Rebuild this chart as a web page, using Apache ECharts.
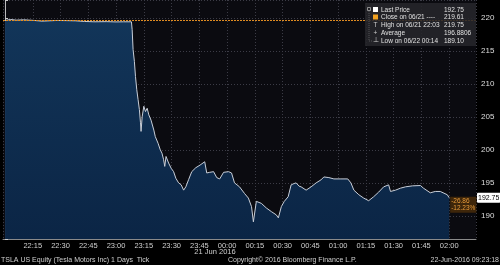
<!DOCTYPE html>
<html><head><meta charset="utf-8">
<script src="https://cdn.jsdelivr.net/npm/echarts@6/dist/echarts.min.js"></script>
<style>html,body{margin:0;padding:0;background:#000}#c{width:500px;height:265px}</style>
</head><body><div id="c"></div>
<script>
// minutes after 21 Jun 2016 22:00
var times = [0, 3, 6, 10, 15, 20, 24, 28, 33, 38,
  43, 48, 55, 60, 64, 68.3, 68.7, 69.2, 69.9, 70.5,
  71.2, 71.9, 72.6, 73.2, 73.5, 74.1, 75, 75.9, 76.8, 77.7,
  78.9, 80.4, 81.2, 82.7, 83.9, 84.8, 85.7, 86.3, 87, 88.4,
  89.8, 91.1, 92.3, 93.8, 95.2, 96.5, 97.7, 99.2, 100.9, 103.1,
  105.4, 106.3, 107.9, 109, 110.6, 112.7, 114.4, 116, 118.1, 120.8,
  122.4, 124, 126.7, 129.4, 131.5, 133.2, 134.2, 135.8, 138.5, 141.2,
  143.9, 146.6, 147.7, 149.3, 150.9, 153, 154.6, 156.2, 157.3, 158.9,
  160, 162.7, 165.4, 168.1, 170.7, 172.3, 175, 177.7, 181.5, 185.2,
  186.9, 188.5, 191.2, 193.8, 196.5, 199.2, 201.9, 204.6, 207.3, 208.3,
  211, 213.7, 216.4, 220.2, 224.5, 226.1, 229.8, 232.5, 235.2, 239,
  240];
var prices = [219.60, 219.75, 219.65, 219.70, 219.62, 219.50, 219.55, 219.60, 219.58, 219.55,
  219.45, 219.40, 219.42, 219.38, 219.40, 219.40, 218.2, 215.2, 213.4, 211.1,
  209.1, 207.6, 206.1, 204.1, 202.8, 205.0, 206.6, 205.8, 206.3, 205.3,
  204.5, 203.0, 202.0, 201.0, 200.0, 199.5, 198.5, 197.5, 199.0, 198.0,
  197.2, 196.7, 195.7, 195.0, 194.7, 193.9, 194.4, 195.5, 196.7, 197.3,
  197.7, 198.0, 198.2, 196.5, 196.6, 196.7, 195.8, 195.6, 196.6, 196.7,
  196.5, 195.0, 194.4, 193.4, 192.7, 191.4, 189.1, 192.2, 191.9, 191.2,
  190.65, 190.15, 189.7, 191.4, 192.2, 192.9, 194.7, 194.9, 195.0, 194.5,
  194.4, 193.9, 194.4, 195.0, 195.45, 195.9, 195.8, 195.6, 195.6, 195.6,
  195.0, 193.9, 193.2, 192.7, 192.3, 192.9, 193.6, 194.4, 194.7, 193.7,
  193.9, 194.2, 194.4, 194.55, 194.6, 194.2, 193.5, 193.7, 193.7, 193.2,
  192.75];
var closePrice = 219.61;
var lastPrice = 192.75;
var netChange = '-26.86';
var pctChange = '-12.23%';
var legendLabels = ['Last Price', 'Close on 06/21 ----', 'High on 06/21 22:03', 'Average', 'Low on 06/22 00:14'];
var legendValues = ['192.75', '219.61', '219.75', '196.8806', '189.10'];
var xMin = -1.1, xMax = 254.5, yMin = 186.5, yMax = 222.7;

function fmtTime(v) {
  var m = Math.round(v);
  if (m < 15 || m % 15 !== 0 || Math.abs(v - m) > 1e-6) return '';
  var total = 22 * 60 + m;
  var h = Math.floor(total / 60) % 24, mm = total % 60;
  return (h < 10 ? '0' : '') + h + ':' + (mm < 10 ? '0' : '') + mm;
}

var data = times.map(function (t, i) { return [t, prices[i]]; });
var font = 'Liberation Sans';
var chart = echarts.init(document.getElementById('c'), null, {renderer: 'canvas'});

var legendGraphics = [{
  type: 'rect', shape: {x: 365, y: 3, width: 111, height: 43},
  style: {fill: 'rgba(38,38,42,0.88)'}, z: 100
}, {
  type: 'rect', shape: {x: 367.5, y: 7.5, width: 3, height: 3},
  style: {fill: 'none', stroke: '#aaa', lineWidth: 0.8}, z: 101
}, {
  type: 'polyline', shape: {points: [[369, 11], [369, 41], [372, 41]]},
  style: {stroke: '#777', lineWidth: 0.6, lineDash: [1, 1]}, z: 101
}];
var icons = [
  {type: 'rect', shape: {x: 373, y: 7, width: 5, height: 5}, style: {fill: '#ffffff'}},
  {type: 'rect', shape: {x: 373, y: 14.5, width: 5, height: 5}, style: {fill: '#f0a020'}},
  {type: 'text', style: {x: 375.5, y: 25.5, text: 'T', fill: '#ccc', font: '6.5px ' + font, align: 'center', verticalAlign: 'middle'}},
  {type: 'text', style: {x: 375.5, y: 33, text: '+', fill: '#ccc', font: '6.5px ' + font, align: 'center', verticalAlign: 'middle'}},
  {type: 'text', style: {x: 375.5, y: 40.5, text: '\u22A5', fill: '#ccc', font: '6.5px ' + font, align: 'center', verticalAlign: 'middle'}}
];
icons.forEach(function (g) { g.z = 101; legendGraphics.push(g); });
legendLabels.forEach(function (lab, i) {
  var y = 10 + i * 7.7;
  legendGraphics.push({type: 'text', z: 101, style: {x: 381, y: y, text: lab, fill: '#e0e0e0', font: '6.5px ' + font, verticalAlign: 'middle'}});
  legendGraphics.push({type: 'text', z: 101, style: {x: 444, y: y, text: legendValues[i], fill: '#e0e0e0', font: '6.5px ' + font, verticalAlign: 'middle'}});
});

var option = {
  backgroundColor: '#000',
  animation: false,
  grid: {left: 0, right: 24, top: 0, bottom: 26, show: true, backgroundColor: '#0b0b10', borderWidth: 0},
  xAxis: {
    type: 'value', min: xMin, max: xMax, minInterval: 15, maxInterval: 15,
    axisLine: {show: true, lineStyle: {color: '#8a8a8a', width: 1}},
    axisTick: {show: false},
    axisLabel: {formatter: fmtTime, color: '#cfcfcf', fontSize: 7.5, fontFamily: font, margin: 3, showMinLabel: true, showMaxLabel: true},
    splitLine: {show: true, lineStyle: {color: '#3c3c46', type: [1, 2], width: 1}}
  },
  yAxis: {
    type: 'value', position: 'right', min: yMin, max: yMax, minInterval: 5, maxInterval: 5,
    axisLine: {show: true, lineStyle: {color: '#bbbbbb', width: 1}},
    axisTick: {show: true, length: 3, lineStyle: {color: '#cccccc'}},
    axisLabel: {
      formatter: function (v) { return Math.abs(v / 5 - Math.round(v / 5)) < 1e-6 ? String(Math.round(v)) : ''; },
      color: '#dddddd', fontSize: 8, fontFamily: font, margin: 5
    },
    splitLine: {show: true, lineStyle: {color: '#3c3c46', type: [1, 2], width: 1}}
  },
  series: [{
    type: 'line', data: data, showSymbol: false, smooth: false,
    lineStyle: {color: '#c8ced8', width: 1},
    areaStyle: {color: new echarts.graphic.LinearGradient(0, 0, 0, 1, [
      {offset: 0, color: '#123559'}, {offset: 1, color: '#0b2545'}
    ]), opacity: 1},
    markLine: {
      silent: true, symbol: 'none', animation: false,
      lineStyle: {color: '#e08c22', type: [2, 1], width: 1, opacity: 1},
      label: {show: false},
      data: [{yAxis: closePrice}]
    },
    markPoint: {
      silent: true, symbol: 'rect', symbolSize: 0, animation: false,
      data: [{coord: [times[times.length - 1], lastPrice],
        label: {show: true, position: 'right', distance: 1, offset: [0, 7], formatter: netChange + '\n' + pctChange,
          color: '#e69a3a', backgroundColor: 'rgba(80,48,8,0.75)', fontSize: 6.5, fontFamily: font,
          lineHeight: 7.5, padding: [1, 1, 0, 1], align: 'left'}},
        {coord: [xMax, lastPrice],
        label: {show: true, position: 'right', distance: 1, formatter: String(lastPrice), color: '#000', backgroundColor: '#ffffff',
          fontSize: 7, fontFamily: font, padding: [2, 1, 1, 1], borderRadius: 1}}]
    }
  }],
  graphic: legendGraphics.concat([
    {type: 'text', style: {x: 215, y: 252, text: '21 Jun 2016', fill: '#cfcfcf', font: '7.5px ' + font, align: 'center', verticalAlign: 'middle'}},
    {type: 'text', style: {x: 1, y: 260, text: 'TSLA US Equity (Tesla Motors Inc) 1 Days  Tick', fill: '#cfcfcf', font: '7px ' + font, verticalAlign: 'middle'}},
    {type: 'text', style: {x: 228, y: 260, text: 'Copyright\u00A9 2016 Bloomberg Finance L.P.', fill: '#cfcfcf', font: '7px ' + font, verticalAlign: 'middle'}},
    {type: 'text', style: {x: 499, y: 260, text: '22-Jun-2016 09:23:18', fill: '#cfcfcf', font: '7px ' + font, align: 'right', verticalAlign: 'middle'}}
  ])
};
chart.setOption(option);
</script>
</body></html>
